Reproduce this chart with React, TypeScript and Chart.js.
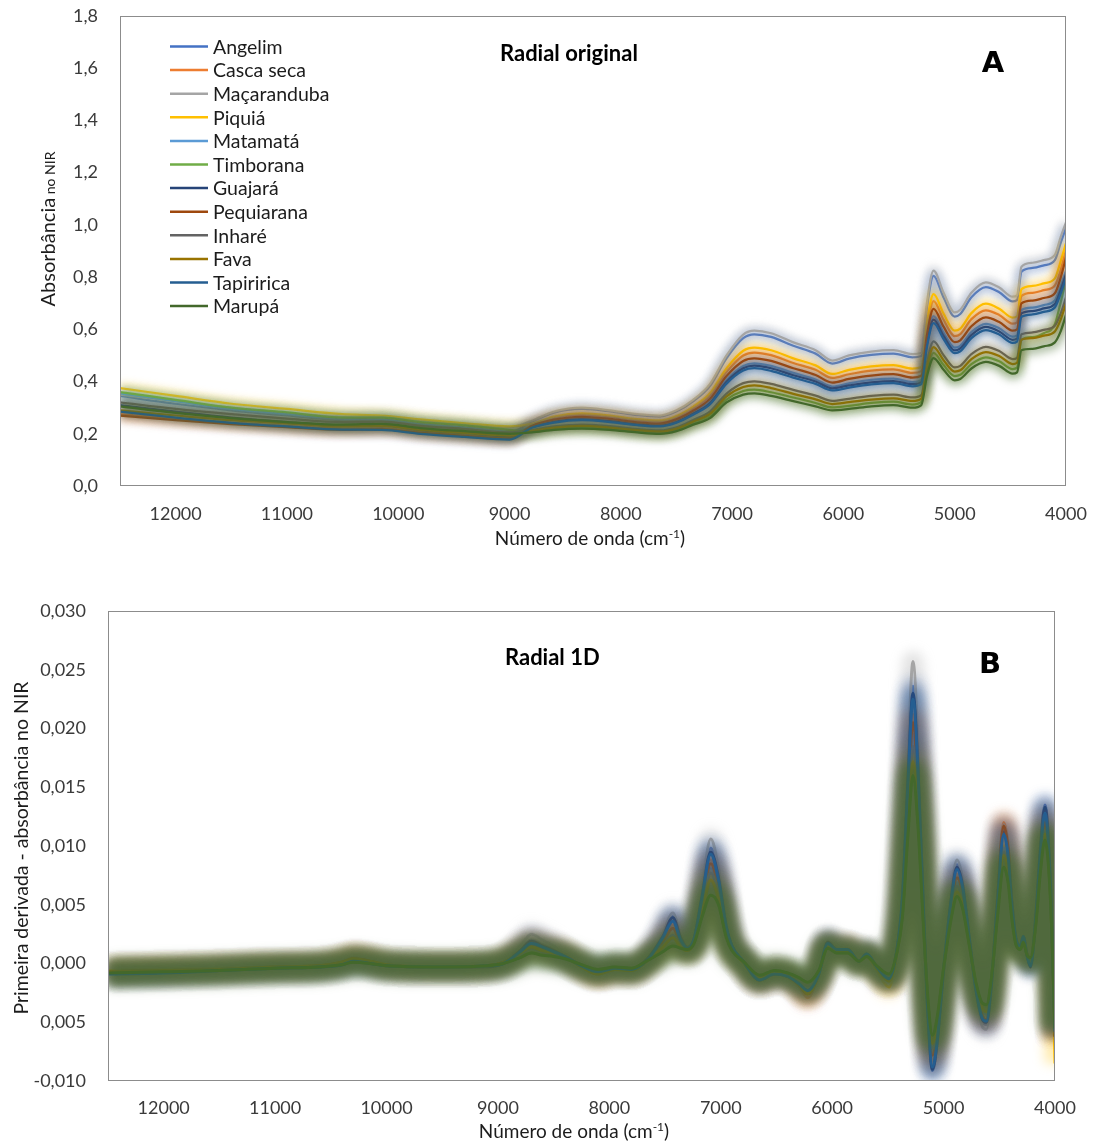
import { useEffect, useRef } from "react";
import { Chart, registerables } from "chart.js";

Chart.register(...registerables);

const FONT = "Lato, 'Open Sans', sans-serif";
const TICK_COLOR = "#3a3a3a";
const TEXT_COLOR = "#1c1c1c";
const FRAME_COLOR = "#8c8c8c";

// wood species, in legend order
const SPECIES = [
  "Angelim", "Casca seca", "Maçaranduba", "Piquiá", "Matamatá", "Timborana",
  "Guajará", "Pequiarana", "Inharé", "Fava", "Tapiririca", "Marupá",
];
const SPECIES_COLORS = [
  "#4472C4", "#ED7D31", "#A5A5A5", "#FFC000", "#5B9BD5", "#70AD47",
  "#264478", "#9E480E", "#636363", "#997300", "#255E91", "#43682B",
];

// axis ticks
const X_TICKS = [12000, 11000, 10000, 9000, 8000, 7000, 6000, 5000, 4000];
const ABS_Y_VALUES = [0, 0.2, 0.4, 0.6, 0.8, 1.0, 1.2, 1.4, 1.6, 1.8];
const ABS_Y_TICKS = ["0,0", "0,2", "0,4", "0,6", "0,8", "1,0", "1,2", "1,4", "1,6", "1,8"];
const DERIV_Y_VALUES = [-0.01, -0.005, 0, 0.005, 0.01, 0.015, 0.02, 0.025, 0.03];
const DERIV_Y_TICKS = ["-0,010", "0,005", "0,000", "0,005", "0,010", "0,015", "0,020", "0,025", "0,030"];

// ---- A: original radial spectra (absorbance) ----
const WAVENUMBER_ABS = [
  12500, 12000, 11500, 11000, 10500, 10150, 9800, 9400, 9000, 8800, 8600, 8350, 8100, 7850, 7650, 7500,
  7350, 7200, 7050, 6900, 6800, 6650, 6450, 6250, 6100, 5950, 5750, 5550, 5380, 5300, 5250, 5190,
  5100, 5000, 4950, 4850, 4720, 4600, 4480, 4440, 4400, 4300, 4200, 4100, 4050, 4000,
];
const absAngelim = [0.345, 0.315, 0.29, 0.27, 0.252, 0.25, 0.233, 0.22, 0.205, 0.247, 0.281, 0.295, 0.286, 0.271, 0.266, 0.285, 0.324, 0.382, 0.489, 0.566, 0.581, 0.571, 0.537, 0.507, 0.469, 0.488, 0.502, 0.507, 0.493, 0.498, 0.683, 0.805, 0.722, 0.649, 0.659, 0.723, 0.762, 0.742, 0.707, 0.712, 0.821, 0.835, 0.845, 0.865, 0.928, 0.99];
const absCascaSeca = [0.275, 0.258, 0.242, 0.23, 0.22, 0.222, 0.208, 0.196, 0.185, 0.234, 0.261, 0.272, 0.264, 0.251, 0.246, 0.262, 0.297, 0.345, 0.437, 0.5, 0.511, 0.501, 0.471, 0.445, 0.414, 0.428, 0.442, 0.447, 0.433, 0.44, 0.602, 0.708, 0.637, 0.574, 0.582, 0.639, 0.673, 0.655, 0.622, 0.627, 0.728, 0.74, 0.75, 0.768, 0.824, 0.905];
const absMacaranduba = [0.35, 0.325, 0.3, 0.28, 0.265, 0.268, 0.25, 0.237, 0.225, 0.25, 0.285, 0.3, 0.29, 0.275, 0.27, 0.29, 0.33, 0.39, 0.5, 0.58, 0.595, 0.585, 0.55, 0.52, 0.48, 0.5, 0.515, 0.52, 0.505, 0.51, 0.7, 0.825, 0.74, 0.665, 0.675, 0.74, 0.78, 0.76, 0.725, 0.73, 0.84, 0.855, 0.865, 0.885, 0.95, 1.01];
const absPiquia = [0.375, 0.345, 0.315, 0.295, 0.275, 0.27, 0.255, 0.24, 0.228, 0.238, 0.266, 0.278, 0.27, 0.256, 0.251, 0.268, 0.304, 0.355, 0.451, 0.518, 0.53, 0.52, 0.489, 0.462, 0.429, 0.445, 0.458, 0.463, 0.45, 0.456, 0.624, 0.735, 0.66, 0.595, 0.603, 0.662, 0.698, 0.679, 0.645, 0.65, 0.754, 0.766, 0.776, 0.795, 0.858, 0.93];
const absMatamata = [0.355, 0.325, 0.295, 0.275, 0.258, 0.255, 0.238, 0.225, 0.21, 0.227, 0.249, 0.258, 0.251, 0.239, 0.234, 0.248, 0.281, 0.322, 0.406, 0.46, 0.47, 0.46, 0.433, 0.408, 0.381, 0.393, 0.406, 0.411, 0.398, 0.406, 0.554, 0.651, 0.587, 0.53, 0.537, 0.589, 0.621, 0.604, 0.572, 0.577, 0.674, 0.683, 0.693, 0.711, 0.763, 0.825];
const absTimborana = [0.36, 0.33, 0.3, 0.282, 0.262, 0.262, 0.245, 0.232, 0.215, 0.208, 0.219, 0.225, 0.22, 0.209, 0.204, 0.215, 0.241, 0.268, 0.331, 0.364, 0.369, 0.359, 0.339, 0.318, 0.301, 0.307, 0.318, 0.323, 0.312, 0.322, 0.437, 0.51, 0.463, 0.421, 0.426, 0.467, 0.493, 0.478, 0.448, 0.453, 0.56, 0.57, 0.585, 0.62, 0.7, 0.79];
const absGuajara = [0.31, 0.285, 0.262, 0.245, 0.232, 0.232, 0.215, 0.203, 0.19, 0.225, 0.246, 0.255, 0.248, 0.236, 0.231, 0.245, 0.277, 0.317, 0.399, 0.451, 0.461, 0.451, 0.424, 0.4, 0.374, 0.385, 0.397, 0.402, 0.39, 0.398, 0.543, 0.637, 0.575, 0.519, 0.527, 0.578, 0.609, 0.592, 0.56, 0.565, 0.661, 0.67, 0.68, 0.697, 0.748, 0.811];
const absPequiarana = [0.27, 0.252, 0.237, 0.225, 0.215, 0.217, 0.203, 0.192, 0.182, 0.23, 0.254, 0.265, 0.257, 0.244, 0.239, 0.255, 0.288, 0.333, 0.421, 0.479, 0.489, 0.479, 0.451, 0.425, 0.396, 0.41, 0.423, 0.428, 0.415, 0.422, 0.577, 0.678, 0.61, 0.551, 0.558, 0.612, 0.646, 0.628, 0.595, 0.6, 0.699, 0.71, 0.72, 0.738, 0.795, 0.875];
const absInhare = [0.32, 0.295, 0.275, 0.258, 0.245, 0.247, 0.23, 0.218, 0.205, 0.214, 0.228, 0.235, 0.229, 0.218, 0.213, 0.225, 0.253, 0.285, 0.354, 0.394, 0.401, 0.391, 0.368, 0.346, 0.326, 0.334, 0.345, 0.35, 0.339, 0.348, 0.473, 0.554, 0.501, 0.454, 0.46, 0.505, 0.533, 0.517, 0.486, 0.491, 0.581, 0.588, 0.598, 0.614, 0.658, 0.722];
const absFava = [0.29, 0.27, 0.252, 0.24, 0.228, 0.23, 0.215, 0.203, 0.193, 0.211, 0.224, 0.23, 0.224, 0.214, 0.209, 0.22, 0.247, 0.276, 0.343, 0.379, 0.385, 0.375, 0.353, 0.332, 0.314, 0.321, 0.331, 0.336, 0.326, 0.335, 0.455, 0.532, 0.482, 0.438, 0.443, 0.486, 0.513, 0.498, 0.467, 0.472, 0.56, 0.566, 0.576, 0.592, 0.635, 0.699];
const absTapiririca = [0.285, 0.262, 0.242, 0.228, 0.216, 0.215, 0.2, 0.188, 0.178, 0.223, 0.243, 0.252, 0.245, 0.233, 0.228, 0.242, 0.273, 0.312, 0.392, 0.442, 0.451, 0.441, 0.415, 0.391, 0.366, 0.377, 0.389, 0.394, 0.382, 0.39, 0.532, 0.624, 0.563, 0.509, 0.516, 0.566, 0.597, 0.58, 0.548, 0.553, 0.648, 0.657, 0.667, 0.684, 0.734, 0.797];
const absMarupa = [0.305, 0.28, 0.26, 0.245, 0.235, 0.238, 0.222, 0.21, 0.2, 0.205, 0.215, 0.22, 0.215, 0.205, 0.2, 0.21, 0.235, 0.26, 0.32, 0.35, 0.355, 0.345, 0.325, 0.305, 0.29, 0.295, 0.305, 0.31, 0.3, 0.31, 0.42, 0.49, 0.445, 0.405, 0.41, 0.45, 0.475, 0.46, 0.43, 0.435, 0.52, 0.525, 0.535, 0.55, 0.59, 0.655];

// ---- B: first derivative of the radial spectra ----
const WAVENUMBER_DERIV = [
  12500, 12000, 11500, 11000, 10600, 10400, 10300, 10150, 10000, 9500, 9100, 8950, 8800, 8700, 8600, 8500,
  8400, 8250, 8100, 7950, 7800, 7650, 7520, 7430, 7360, 7300, 7240, 7170, 7090, 7020, 6950, 6900,
  6800, 6650, 6520, 6400, 6300, 6220, 6120, 6040, 5960, 5860, 5760, 5690, 5600, 5490, 5420, 5370,
  5320, 5275, 5230, 5180, 5140, 5100, 5060, 5000, 4930, 4880, 4830, 4770, 4710, 4650, 4615, 4570,
  4520, 4460, 4420, 4390, 4350, 4310, 4285, 4250, 4220, 4170, 4130, 4090, 4040, 4000,
];
const derivAngelim = [-0.0008, -0.0007, -0.0005, -0.0004, -0.0003, 0, 0.0002, 0.0001, -0.0002, -0.0003, -0.0002,
  0.0001, 0.0012, 0.002, 0.0016, 0.0012, 0.0006, -0.0002, -0.0007, -0.0004, -0.0005, 0.0005, 0.0024, 0.004, 0.0023, 0.0014, 0.0021,
  0.0058, 0.0098, 0.0075, 0.0032, 0.0015, 0.0002, -0.0014, -0.0009, -0.0011, -0.0017, -0.0023, -0.0009, 0.0018, 0.0012, 0.0012, 0.0002, 0.0008, -0.0003, -0.0013, 0.0011,
  0.0058, 0.0161, 0.0236, 0.0173, 0.0046, -0.0046, -0.0091, -0.007, -0.0006, 0.0058, 0.0084, 0.0069, 0.0023, -0.0023, -0.0049, -0.0052, -0.0017, 0.0051, 0.0115, 0.0095, 0.0056, 0.0021, 0.0015, 0.0023, 0.0007, 0.0002, 0.0045, 0.0101, 0.0135, 0.0068, -0.006];
const derivCascaSeca = [-0.0007, -0.0006, -0.0004, -0.0003, -0.0002, 0.0001, 0.0005, 0.0002, -0.0001, -0.0003, -0.0002,
  0.0001, 0.0011, 0.0018, 0.0015, 0.0011, 0.0008, -0.0002, -0.0009, -0.0005, -0.0006, 0.0004, 0.002, 0.0033, 0.0018, 0.0013, 0.0021,
  0.0052, 0.0088, 0.0067, 0.0029, 0.0014, 0.0001, -0.0015, -0.0009, -0.0012, -0.002, -0.0029, -0.001, 0.0016, 0.0012, 0.0013, 0.0003, 0.0007, -0.0003, -0.0014, 0.001,
  0.0052, 0.0144, 0.0212, 0.0155, 0.0041, -0.0041, -0.0082, -0.0063, -0.0005, 0.0052, 0.0076, 0.0062, 0.0021, -0.0021, -0.0046, -0.0049, -0.0016, 0.0053, 0.012, 0.01, 0.0059, 0.0022, 0.0015, 0.0024, 0.0008, 0.0005, 0.0041, 0.0094, 0.0125, 0.0063, -0.0066];
const derivMacaranduba = [-0.0007, -0.0006, -0.0005, -0.0003, -0.0003, 0, 0.0003, 0.0001, -0.0002, -0.0003, -0.0002,
  0.0001, 0.0015, 0.0025, 0.002, 0.0015, 0.0007, -0.0002, -0.0007, -0.0004, -0.0005, 0.0005, 0.0026, 0.0043, 0.0024, 0.0014, 0.0022,
  0.0062, 0.0106, 0.0081, 0.0035, 0.0015, 0.0002, -0.0014, -0.0009, -0.0011, -0.0018, -0.0024, -0.0009, 0.0019, 0.0013, 0.0012, 0.0002, 0.0008, -0.0003, -0.0013, 0.0011,
  0.0062, 0.0175, 0.0257, 0.0188, 0.005, -0.005, -0.0086, -0.0066, -0.0005, 0.0062, 0.0088, 0.0072, 0.0025, -0.0025, -0.0054, -0.0056, -0.0019, 0.0052, 0.0118, 0.0098, 0.0058, 0.0022, 0.0016, 0.0024, 0.0008, 0.0004, 0.0043, 0.0098, 0.013, 0.0065, -0.0065];
const derivPiquia = [-0.0006, -0.0005, -0.0004, -0.0003, -0.0002, 0.0001, 0.0004, 0.0002, -0.0001, -0.0002, -0.0002,
  0.0001, 0.001, 0.0016, 0.0013, 0.001, 0.0006, -0.0003, -0.0009, -0.0005, -0.0006, 0.0003, 0.0016, 0.0026, 0.0016, 0.0012, 0.0019,
  0.0044, 0.0075, 0.0057, 0.0025, 0.0012, 0.0001, -0.0014, -0.0009, -0.0011, -0.0018, -0.0024, -0.0009, 0.0014, 0.0011, 0.0012, 0.0001, 0.0006, -0.0006, -0.002, 0.0008,
  0.0044, 0.0123, 0.018, 0.0132, 0.0035, -0.0035, -0.0075, -0.0058, -0.0004, 0.0044, 0.0064, 0.0053, 0.0018, -0.0018, -0.004, -0.0043, -0.0013, 0.0044, 0.01, 0.0083, 0.0049, 0.0018, 0.0013, 0.002, 0.0007, 0.0004, 0.0038, 0.0086, 0.0115, 0.0058, -0.0085];
const derivMatamata = [-0.0008, -0.0007, -0.0005, -0.0004, -0.0003, 0, 0.0002, 0.0001, -0.0002, -0.0003, -0.0002,
  0, 0.0007, 0.0011, 0.0009, 0.0007, 0.0005, -0.0002, -0.0006, -0.0004, -0.0005, 0.0003, 0.0013, 0.0021, 0.0015, 0.0012, 0.0019,
  0.0048, 0.0081, 0.0062, 0.0027, 0.0013, 0.0002, -0.0012, -0.0008, -0.001, -0.0015, -0.002, -0.0008, 0.0015, 0.001, 0.001, 0.0002, 0.0007, -0.0003, -0.0011, 0.001,
  0.0048, 0.0133, 0.0195, 0.0143, 0.0038, -0.0038, -0.0074, -0.0057, -0.0005, 0.0048, 0.0069, 0.0057, 0.0019, -0.0019, -0.0041, -0.0043, -0.0014, 0.0043, 0.0098, 0.0081, 0.0048, 0.0019, 0.0014, 0.0021, 0.0007, 0.0003, 0.0039, 0.0088, 0.0117, 0.0059, -0.0058];
const derivTimborana = [-0.0008, -0.0007, -0.0005, -0.0004, -0.0003, 0, 0.0002, 0.0001, -0.0002, -0.0003, -0.0002,
  0, 0.0006, 0.001, 0.0008, 0.0007, 0.0005, -0.0001, -0.0005, -0.0003, -0.0004, 0.0003, 0.0011, 0.0017, 0.0014, 0.0012, 0.0018,
  0.0041, 0.007, 0.0053, 0.0023, 0.0012, 0.0002, -0.0011, -0.0007, -0.0008, -0.0013, -0.0017, -0.0007, 0.0014, 0.0009, 0.0009, 0.0002, 0.0006, -0.0002, -0.001, 0.0009,
  0.0041, 0.0115, 0.0168, 0.0123, 0.0033, -0.0033, -0.0065, -0.005, -0.0004, 0.0041, 0.006, 0.0049, 0.0016, -0.0016, -0.0035, -0.0037, -0.0012, 0.0039, 0.0088, 0.0073, 0.0043, 0.0016, 0.0013, 0.0019, 0.0007, 0.0005, 0.0036, 0.0081, 0.0108, 0.0054, -0.0057];
const derivGuajara = [-0.0008, -0.0007, -0.0006, -0.0004, -0.0003, -0.0001, 0.0002, 0, -0.0002, -0.0003, -0.0003,
  0, 0.0011, 0.0019, 0.0015, 0.0011, 0.0006, -0.0002, -0.0007, -0.0004, -0.0005, 0.0005, 0.0023, 0.0039, 0.0022, 0.0014, 0.0021,
  0.0056, 0.0095, 0.0073, 0.0031, 0.0015, 0.0002, -0.0014, -0.0009, -0.0011, -0.0017, -0.0023, -0.0009, 0.0018, 0.0012, 0.0012, 0.0002, 0.0008, -0.0003, -0.0013, 0.0011,
  0.0056, 0.0157, 0.023, 0.0168, 0.0045, -0.0045, -0.009, -0.0069, -0.0006, 0.0056, 0.0082, 0.0067, 0.0022, -0.0022, -0.0048, -0.005, -0.0017, 0.0049, 0.0112, 0.0093, 0.0055, 0.0021, 0.0015, 0.0023, 0.0007, -0.0003, 0.0044, 0.01, 0.0133, 0.0067, -0.0062];
const derivPequiarana = [-0.0007, -0.0006, -0.0005, -0.0003, -0.0002, 0.0001, 0.0004, 0.0002, -0.0002, -0.0003, -0.0002,
  0.0001, 0.0009, 0.0015, 0.0012, 0.0009, 0.0006, -0.0002, -0.0008, -0.0005, -0.0005, 0.0004, 0.0018, 0.003, 0.0017, 0.0013, 0.002,
  0.005, 0.0085, 0.0065, 0.0028, 0.0014, 0.0002, -0.0014, -0.0009, -0.0011, -0.0018, -0.0026, -0.0009, 0.0016, 0.0012, 0.0012, 0.0002, 0.0007, -0.0003, -0.0013, 0.001,
  0.005, 0.014, 0.0205, 0.015, 0.004, -0.004, -0.0078, -0.006, -0.0005, 0.005, 0.0073, 0.006, 0.002, -0.002, -0.0045, -0.0048, -0.0015, 0.0051, 0.0117, 0.0097, 0.0057, 0.0021, 0.0015, 0.0023, 0.0008, 0.0005, 0.004, 0.009, 0.012, 0.006, -0.0062];
const derivInhare = [-0.0007, -0.0006, -0.0005, -0.0003, -0.0003, 0, 0.0003, 0.0001, -0.0002, -0.0003, -0.0002,
  0.0001, 0.0008, 0.0013, 0.001, 0.0008, 0.0005, -0.0002, -0.0006, -0.0004, -0.0005, 0.0003, 0.0015, 0.0024, 0.0015, 0.0012, 0.0019,
  0.0045, 0.0077, 0.0059, 0.0025, 0.0013, 0.0002, -0.0012, -0.0007, -0.0009, -0.0015, -0.0019, -0.0007, 0.0015, 0.001, 0.001, 0.0002, 0.0006, -0.0003, -0.0011, 0.0009,
  0.0045, 0.0126, 0.0185, 0.0135, 0.0036, -0.0036, -0.0072, -0.0055, -0.0004, 0.0045, 0.0066, 0.0054, 0.0018, -0.0018, -0.0039, -0.0041, -0.0014, 0.0042, 0.0095, 0.0079, 0.0047, 0.0018, 0.0014, 0.002, 0.0007, 0.0004, 0.0037, 0.0085, 0.0113, 0.0057, -0.006];
const derivFava = [-0.0007, -0.0006, -0.0005, -0.0003, -0.0002, 0.0001, 0.0004, 0.0002, -0.0001, -0.0003, -0.0002,
  0.0001, 0.0009, 0.0014, 0.0011, 0.0009, 0.0006, -0.0003, -0.0009, -0.0005, -0.0006, 0.0003, 0.0014, 0.0022, 0.0014, 0.0011, 0.0018,
  0.0042, 0.0071, 0.0055, 0.0024, 0.0012, 0.0001, -0.0013, -0.0008, -0.001, -0.0017, -0.0026, -0.0009, 0.0014, 0.001, 0.0011, 0.0002, 0.0006, -0.0004, -0.0015, 0.0008,
  0.0042, 0.0118, 0.0172, 0.0126, 0.0034, -0.0034, -0.0068, -0.0052, -0.0004, 0.0042, 0.0061, 0.005, 0.0017, -0.0017, -0.0038, -0.0041, -0.0013, 0.004, 0.0092, 0.0076, 0.0045, 0.0017, 0.0013, 0.0019, 0.0007, 0.0004, 0.0036, 0.0083, 0.011, 0.0055, -0.0062];
const derivTapiririca = [-0.0009, -0.0008, -0.0006, -0.0004, -0.0003, -0.0001, 0.0002, 0, -0.0002, -0.0003, -0.0002,
  0, 0.001, 0.0017, 0.0014, 0.001, 0.0006, -0.0002, -0.0007, -0.0004, -0.0005, 0.0004, 0.0022, 0.0036, 0.002, 0.0013, 0.0021,
  0.0055, 0.0093, 0.0071, 0.0031, 0.0015, 0.0002, -0.0014, -0.0009, -0.0011, -0.0017, -0.0023, -0.0009, 0.0017, 0.0012, 0.0012, 0.0002, 0.0008, -0.0003, -0.0013, 0.0011,
  0.0055, 0.0153, 0.0225, 0.0164, 0.0044, -0.0044, -0.0088, -0.0068, -0.0005, 0.0055, 0.008, 0.0065, 0.0022, -0.0022, -0.0047, -0.0049, -0.0016, 0.0048, 0.011, 0.0091, 0.0054, 0.0021, 0.0015, 0.0023, 0.0006, -0.0002, 0.0042, 0.0096, 0.0128, 0.0064, -0.0058];
const derivMarupa = [-0.0008, -0.0007, -0.0006, -0.0004, -0.0003, -0.0001, 0.0001, 0, -0.0002, -0.0003, -0.0002,
  0, 0.0005, 0.0009, 0.0007, 0.0006, 0.0004, -0.0001, -0.0005, -0.0003, -0.0004, 0.0003, 0.001, 0.0015, 0.0013, 0.0012, 0.0017,
  0.0039, 0.0058, 0.005, 0.0022, 0.0011, 0.0002, -0.001, -0.0006, -0.0008, -0.0012, -0.0016, -0.0006, 0.0013, 0.0009, 0.0009, 0.0002, 0.0006, -0.0002, -0.0009, 0.0009,
  0.0039, 0.0109, 0.016, 0.0117, 0.0031, -0.0031, -0.0061, -0.0047, -0.0004, 0.0039, 0.0057, 0.0047, 0.0016, -0.0016, -0.0034, -0.0035, -0.0012, 0.0036, 0.0082, 0.0068, 0.004, 0.0016, 0.0012, 0.0018, 0.0007, 0.0005, 0.0035, 0.0079, 0.0105, 0.0053, -0.0055];

const ABS_SERIES = [absAngelim, absCascaSeca, absMacaranduba, absPiquia, absMatamata, absTimborana,
  absGuajara, absPequiarana, absInhare, absFava, absTapiririca, absMarupa];
const DERIV_SERIES = [derivAngelim, derivCascaSeca, derivMacaranduba, derivPiquia, derivMatamata, derivTimborana,
  derivGuajara, derivPequiarana, derivInhare, derivFava, derivTapiririca, derivMarupa];

function rgba(hex: string, a: number) {
  const n = parseInt(hex.slice(1), 16);
  return `rgba(${(n >> 16) & 255},${(n >> 8) & 255},${n & 255},${a})`;
}

function buildDatasets(xs: number[], series: number[][], lineWidth: number) {
  return series.map((ys, i) => ({
    label: SPECIES[i],
    data: xs.map((x, j) => ({ x, y: ys[j] })),
    borderColor: SPECIES_COLORS[i],
    backgroundColor: SPECIES_COLORS[i],
    borderWidth: lineWidth,
    pointRadius: 0,
    pointHoverRadius: 0,
    fill: false,
    cubicInterpolationMode: "monotone",
    // later species are painted on top
    order: series.length - i,
  }));
}

// soft halo under every spectrum line: the same path, wider, translucent and blurred.
// The top-most series can get a stronger halo.
function glowPlugin(width: number, alpha: number, blur: number, topWidth: number, topAlpha: number) {
  return {
    id: "seriesGlow",
    beforeDatasetDraw(chart: any, args: any) {
      const el = args.meta && args.meta.dataset;
      if (!el) return;
      const isTop = args.index === chart.data.datasets.length - 1;
      const ctx: CanvasRenderingContext2D = chart.ctx;
      const a = chart.chartArea;
      const orig = el.options;
      ctx.save();
      ctx.beginPath();
      ctx.rect(a.left, a.top, a.right - a.left, a.bottom - a.top);
      ctx.clip();
      ctx.filter = `blur(${blur}px)`;
      el.options = {
        ...orig,
        borderWidth: isTop ? topWidth : width,
        borderColor: rgba(orig.borderColor, isTop ? topAlpha : alpha),
      };
      el.draw(ctx, a);
      el.options = orig;
      ctx.restore();
    },
  };
}

function drawFrame(ctx: CanvasRenderingContext2D, a: any) {
  ctx.strokeStyle = FRAME_COLOR;
  ctx.lineWidth = 1;
  ctx.strokeRect(Math.round(a.left) + 0.5, Math.round(a.top) + 0.5,
    Math.round(a.right - a.left) - 1, Math.round(a.bottom - a.top) - 1);
}

function drawXTitle(ctx: CanvasRenderingContext2D, cx: number, baseline: number) {
  const main = "Número de onda (cm";
  const sup = "-1";
  const close = ")";
  ctx.fillStyle = TEXT_COLOR;
  ctx.textBaseline = "alphabetic";
  ctx.textAlign = "left";
  ctx.font = `19px ${FONT}`;
  const w1 = ctx.measureText(main).width;
  const w3 = ctx.measureText(close).width;
  ctx.font = `12px ${FONT}`;
  const w2 = ctx.measureText(sup).width;
  let x = cx - (w1 + w2 + w3) / 2;
  ctx.font = `19px ${FONT}`;
  ctx.fillText(main, x, baseline);
  x += w1;
  ctx.font = `12px ${FONT}`;
  ctx.fillText(sup, x, baseline - 7);
  x += w2;
  ctx.font = `19px ${FONT}`;
  ctx.fillText(close, x, baseline);
}

function drawYTitle(ctx: CanvasRenderingContext2D, baseX: number, cy: number, parts: [string, number][]) {
  ctx.save();
  ctx.translate(baseX, cy);
  ctx.rotate(-Math.PI / 2);
  ctx.fillStyle = TEXT_COLOR;
  ctx.textBaseline = "alphabetic";
  ctx.textAlign = "left";
  const widths = parts.map(([t, s]) => {
    ctx.font = `${s}px ${FONT}`;
    return ctx.measureText(t).width;
  });
  let x = -widths.reduce((p, c) => p + c, 0) / 2;
  parts.forEach(([t, s], i) => {
    ctx.font = `${s}px ${FONT}`;
    ctx.fillText(t, x, 0);
    x += widths[i];
  });
  ctx.restore();
}

const absDecor = {
  id: "absDecor",
  afterDraw(chart: any) {
    const ctx: CanvasRenderingContext2D = chart.ctx;
    ctx.save();
    drawFrame(ctx, chart.chartArea);

    // legend inside the plot
    chart.data.datasets.forEach((ds: any, i: number) => {
      const y = 46.5 + i * 23.6;
      ctx.strokeStyle = ds.borderColor;
      ctx.lineWidth = 2.5;
      ctx.beginPath();
      ctx.moveTo(170, y);
      ctx.lineTo(208, y);
      ctx.stroke();
      ctx.fillStyle = TEXT_COLOR;
      ctx.font = `19.5px ${FONT}`;
      ctx.textAlign = "left";
      ctx.textBaseline = "middle";
      ctx.fillText(ds.label, 213, y + 1);
    });

    ctx.fillStyle = "#000";
    ctx.textBaseline = "alphabetic";
    ctx.textAlign = "left";
    ctx.font = `bold 22px ${FONT}`;
    ctx.fillText("Radial original", 500, 61);
    ctx.textAlign = "center";
    ctx.font = `bold 29px 'DejaVu Sans', sans-serif`;
    ctx.fillText("A", 993, 72);

    drawXTitle(ctx, 590, 545);
    drawYTitle(ctx, 55, 229, [["Absorbância", 20], [" no NIR", 14]]);
    ctx.restore();
  },
};

const derivDecor = {
  id: "derivDecor",
  afterDraw(chart: any) {
    const ctx: CanvasRenderingContext2D = chart.ctx;
    ctx.save();
    drawFrame(ctx, chart.chartArea);
    ctx.fillStyle = "#000";
    ctx.textBaseline = "alphabetic";
    ctx.textAlign = "left";
    ctx.font = `bold 22px ${FONT}`;
    ctx.fillText("Radial 1D", 505, 105);
    ctx.textAlign = "center";
    ctx.font = `bold 29px 'DejaVu Sans', sans-serif`;
    ctx.fillText("B", 990, 113);

    drawXTitle(ctx, 574, 578);
    drawYTitle(ctx, 28, 288, [["Primeira derivada - absorbância no NIR", 19.5]]);
    ctx.restore();
  },
};

// keep the plot box exactly where the layout padding puts it
function noLabelPadding(s: any) {
  s.paddingLeft = 0;
  s.paddingRight = 0;
  s.paddingTop = 0;
  s.paddingBottom = 0;
}

function xScale(height: number, padding: number) {
  return {
    type: "linear",
    reverse: true,
    min: 4000,
    max: 12500,
    afterFit: (s: any) => { s.height = height; noLabelPadding(s); },
    afterBuildTicks: (s: any) => { s.ticks = X_TICKS.map((v) => ({ value: v })); },
    grid: { display: false, drawTicks: false },
    border: { display: false },
    ticks: {
      autoSkip: false,
      maxRotation: 0,
      padding,
      color: TICK_COLOR,
      font: { family: FONT, size: 18 },
      callback: (v: number) => String(v),
    },
  };
}

function yScale(min: number, max: number, values: number[], labels: string[], width: number) {
  return {
    type: "linear",
    min,
    max,
    afterFit: (s: any) => { s.width = width; noLabelPadding(s); },
    afterBuildTicks: (s: any) => { s.ticks = values.map((v) => ({ value: v })); },
    grid: { display: false, drawTicks: false },
    border: { display: false },
    ticks: {
      padding: 22,
      color: TICK_COLOR,
      font: { family: FONT, size: 18 },
      callback: (_v: number, i: number) => labels[i],
    },
  };
}

function absConfig(): any {
  return {
    type: "line",
    data: { datasets: buildDatasets(WAVENUMBER_ABS, ABS_SERIES, 2.25) },
    options: {
      animation: false,
      responsive: false,
      devicePixelRatio: 1,
      events: [],
      layout: { padding: { left: 0, right: 29, top: 16, bottom: 0 } },
      plugins: { legend: { display: false }, tooltip: { enabled: false } },
      scales: {
        x: xScale(64, 17),
        y: yScale(0, 1.8, ABS_Y_VALUES, ABS_Y_TICKS, 120),
      },
    },
    plugins: [glowPlugin(10, 0.34, 4, 12, 0.4), absDecor],
  };
}

function derivConfig(): any {
  return {
    type: "line",
    data: { datasets: buildDatasets(WAVENUMBER_DERIV, DERIV_SERIES, 3) },
    options: {
      animation: false,
      responsive: false,
      devicePixelRatio: 1,
      events: [],
      layout: { padding: { left: 0, right: 40, top: 51, bottom: 0 } },
      plugins: { legend: { display: false }, tooltip: { enabled: false } },
      scales: {
        x: xScale(62, 16),
        y: yScale(-0.01, 0.03, DERIV_Y_VALUES, DERIV_Y_TICKS, 108),
      },
    },
    plugins: [glowPlugin(20, 0.32, 6, 28, 0.6), derivDecor],
  };
}

function SpectrumCanvas({ top, height, build }: { top: number; height: number; build: () => any }) {
  const ref = useRef<HTMLCanvasElement | null>(null);
  useEffect(() => {
    if (!ref.current) return;
    const chart = new Chart(ref.current, build());
    return () => chart.destroy();
  }, [build]);
  return (
    <canvas
      ref={ref}
      width={1095}
      height={height}
      style={{ position: "absolute", left: 0, top, width: 1095, height }}
    />
  );
}

export default function App() {
  return (
    <div style={{ position: "absolute", left: 0, top: 0, width: 1095, height: 1143, background: "#fff" }}>
      <SpectrumCanvas top={0} height={550} build={absConfig} />
      <SpectrumCanvas top={560} height={583} build={derivConfig} />
    </div>
  );
}
